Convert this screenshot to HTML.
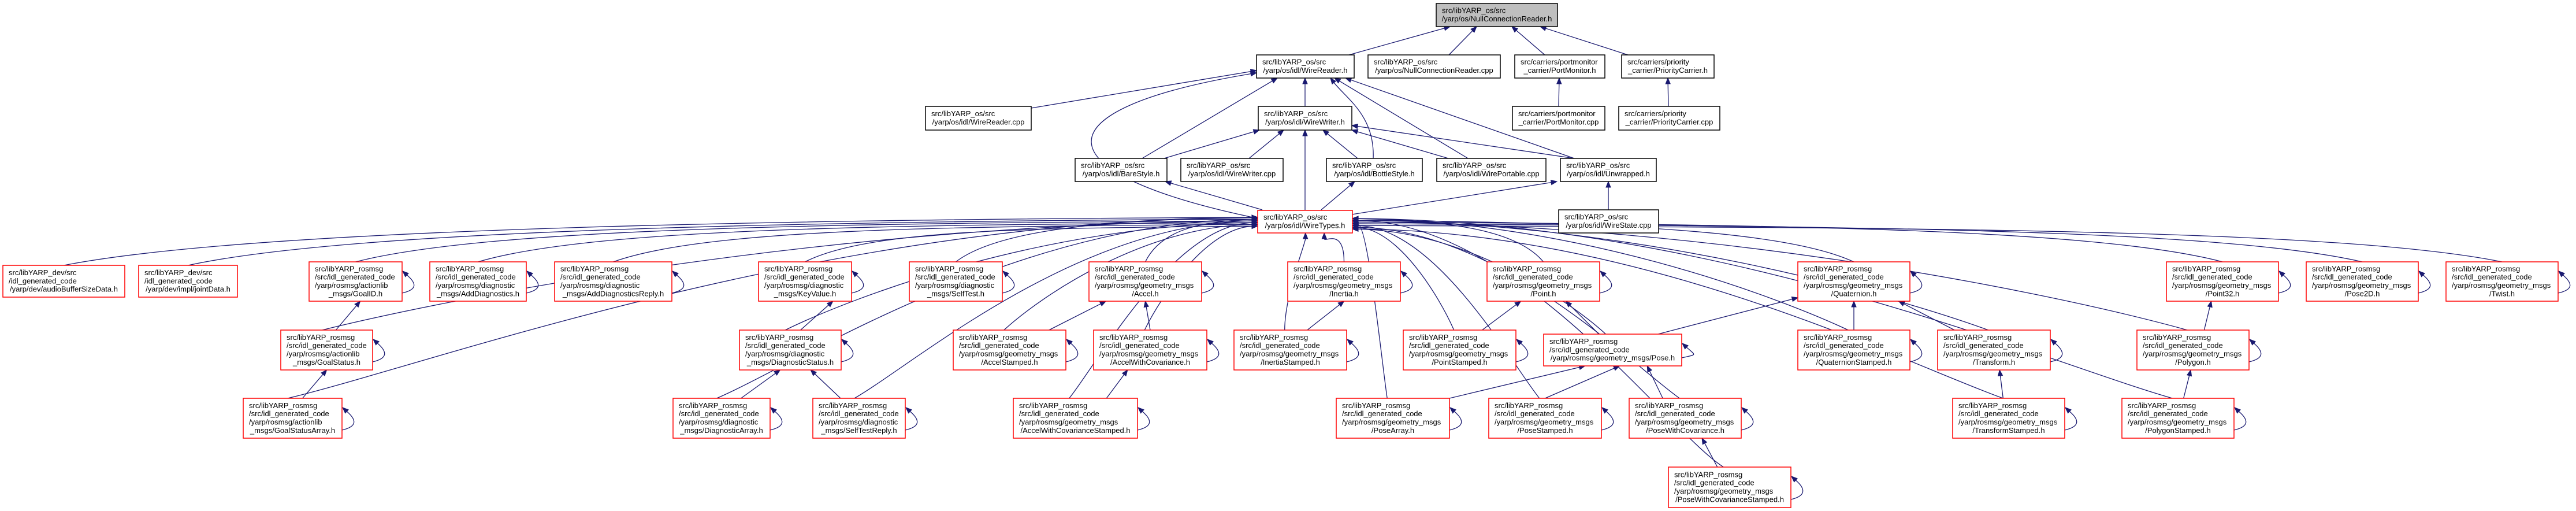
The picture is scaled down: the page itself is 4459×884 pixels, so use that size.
<!DOCTYPE html>
<html><head><meta charset="utf-8">
<style>
html,body{margin:0;padding:0;background:#fff;width:4459px;height:884px;overflow:hidden}
svg{display:block}
text{font-family:"Liberation Sans",sans-serif;font-size:13px;fill:#000}
</style></head>
<body>
<svg id="g" xmlns="http://www.w3.org/2000/svg" width="4459" height="884" viewBox="0 0 4459 884"></svg>
<script>
const S=document.getElementById('g');
const NS='http://www.w3.org/2000/svg';
const C='#191970';
const R='src/libYARP_rosmsg', I='/src/idl_generated_code', G='/yarp/rosmsg/geometry_msgs', D='/yarp/rosmsg/diagnostic', A='/yarp/rosmsg/actionlib';
const N={
root:[2486,6,2696,46,['src/libYARP_os/src','/yarp/os/NullConnectionReader.h'],'k',1],
wrh:[2175,95,2344,135,['src/libYARP_os/src','/yarp/os/idl/WireReader.h'],'k'],
ncc:[2368,95,2597,135,['src/libYARP_os/src','/yarp/os/NullConnectionReader.cpp'],'k'],
pmh:[2622,95,2778,135,['src/carriers/portmonitor','_carrier/PortMonitor.h'],'k'],
pch:[2807,95,2967,135,['src/carriers/priority','_carrier/PriorityCarrier.h'],'k'],
wrc:[1602,184,1785,225,['src/libYARP_os/src','/yarp/os/idl/WireReader.cpp'],'k'],
wwh:[2178,184,2340,225,['src/libYARP_os/src','/yarp/os/idl/WireWriter.h'],'k'],
pmc:[2618,184,2778,225,['src/carriers/portmonitor','_carrier/PortMonitor.cpp'],'k'],
pcc:[2802,184,2977,225,['src/carriers/priority','_carrier/PriorityCarrier.cpp'],'k'],
bs:[1861,274,2020,314,['src/libYARP_os/src','/yarp/os/idl/BareStyle.h'],'k'],
wwc:[2044,274,2221,314,['src/libYARP_os/src','/yarp/os/idl/WireWriter.cpp'],'k'],
bts:[2296,274,2462,314,['src/libYARP_os/src','/yarp/os/idl/BottleStyle.h'],'k'],
wpc:[2487,274,2676,314,['src/libYARP_os/src','/yarp/os/idl/WirePortable.cpp'],'k'],
unw:[2701,274,2867,314,['src/libYARP_os/src','/yarp/os/idl/Unwrapped.h'],'k'],
wt:[2177,364,2341,403,['src/libYARP_os/src','/yarp/os/idl/WireTypes.h'],'r'],
wsc:[2698,363,2871,403,['src/libYARP_os/src','/yarp/os/idl/WireState.cpp'],'k'],
abs:[5,459,216,514,['src/libYARP_dev/src','/idl_generated_code','/yarp/dev/audioBufferSizeData.h'],'r'],
jd:[240,459,411,514,['src/libYARP_dev/src','/idl_generated_code','/yarp/dev/impl/jointData.h'],'r'],
gid:[535,453,696,521,[R,I,A,'_msgs/GoalID.h'],'r',0,1],
add:[744,453,911,521,[R,I,D,'_msgs/AddDiagnostics.h'],'r',0,1],
adr:[960,453,1163,521,[R,I,D,'_msgs/AddDiagnosticsReply.h'],'r',0,1],
kv:[1313,453,1474,521,[R,I,D,'_msgs/KeyValue.h'],'r',0,1],
st:[1574,453,1735,521,[R,I,D,'_msgs/SelfTest.h'],'r',0,1],
acc:[1885,453,2080,521,[R,I,G,'/Accel.h'],'r',0,1],
ine:[2229,453,2424,521,[R,I,G,'/Inertia.h'],'r',0,1],
pt:[2574,453,2769,521,[R,I,G,'/Point.h'],'r',0,1],
q:[3112,453,3306,521,[R,I,G,'/Quaternion.h'],'r',0,1],
p32:[3750,453,3944,521,[R,I,G,'/Point32.h'],'r',0,1],
p2d:[3992,453,4186,521,[R,I,G,'/Pose2D.h'],'r',0,1],
tw:[4234,453,4428,521,[R,I,G,'/Twist.h'],'r',0,1],
gs:[486,571,645,640,[R,I,A,'_msgs/GoalStatus.h'],'r',0,1],
ds:[1280,571,1456,640,[R,I,D,'_msgs/DiagnosticStatus.h'],'r',0,1],
ast:[1650,571,1845,640,[R,I,G,'/AccelStamped.h'],'r',0,1],
awc:[1893,571,2089,640,[R,I,G,'/AccelWithCovariance.h'],'r',0,1],
ist:[2136,571,2331,640,[R,I,G,'/InertiaStamped.h'],'r',0,1],
pst:[2429,571,2624,640,[R,I,G,'/PointStamped.h'],'r',0,1],
pose:[2672,578,2911,633,[R,I,'/yarp/rosmsg/geometry_msgs/Pose.h'],'r',0,1],
qst:[3112,571,3306,640,[R,I,G,'/QuaternionStamped.h'],'r',0,1],
tf:[3354,571,3549,640,[R,I,G,'/Transform.h'],'r',0,1],
pg:[3699,571,3893,640,[R,I,G,'/Polygon.h'],'r',0,1],
gsa:[421,689,592,758,[R,I,A,'_msgs/GoalStatusArray.h'],'r',0,1],
da:[1165,689,1333,758,[R,I,D,'_msgs/DiagnosticArray.h'],'r',0,1],
str:[1407,689,1567,758,[R,I,D,'_msgs/SelfTestReply.h'],'r',0,1],
awcs:[1754,689,1969,758,[R,I,G,'/AccelWithCovarianceStamped.h'],'r',0,1],
pa:[2313,689,2509,758,[R,I,G,'/PoseArray.h'],'r',0,1],
ps:[2577,689,2772,758,[R,I,G,'/PoseStamped.h'],'r',0,1],
pwc:[2820,689,3014,758,[R,I,G,'/PoseWithCovariance.h'],'r',0,1],
tfs:[3380,689,3574,758,[R,I,G,'/TransformStamped.h'],'r',0,1],
pgs:[3673,689,3867,758,[R,I,G,'/PolygonStamped.h'],'r',0,1],
pwcs:[2888,808,3100,878,[R,I,G,'/PoseWithCovarianceStamped.h'],'r',0,1],
};
function el(t,a,p){const e=document.createElementNS(NS,t);for(const k in a)e.setAttribute(k,a[k]);(p||S).appendChild(e);return e;}
const edges=el('g',{}),nodesG=el('g',{});
function arrow(x1,y1,x2,y2){const dx=x2-x1,dy=y2-y1,l=Math.hypot(dx,dy)||1,ux=dx/l,uy=dy/l;const L=10,W=4;
 const bx=x2-ux*L,by=y2-uy*L;el('polygon',{points:`${x2},${y2} ${bx-uy*W},${by+ux*W} ${bx+uy*W},${by-ux*W}`,fill:C,stroke:C,'stroke-width':1},edges);return [bx,by];}
function line(x1,y1,x2,y2){const [bx,by]=arrow(x1,y1,x2,y2);el('path',{d:`M${x1},${y1}L${bx},${by}`,fill:'none',stroke:C,'stroke-width':1.3},edges);}
function curve(x1,y1,c1x,c1y,c2x,c2y,x2,y2){const [bx,by]=arrow(c2x,c2y,x2,y2);el('path',{d:`M${x1},${y1}C${c1x},${c1y} ${c2x},${c2y} ${bx},${by}`,fill:'none',stroke:C,'stroke-width':1.3},edges);}
// top edges
line(2335,95,2510,46);line(2508,95,2556,46);line(2674,95,2617,46);line(2818,95,2666,46);
line(1785,187,2175,122);line(2259,184,2259,135);line(1977,274,2211,135);
curve(2377,274,2380,200,2330,170,2303,135);line(2541,274,2310,135);line(2725,274,2329,135);
curve(2178,378,1800,300,1790,190,2175,126);
line(2698,184,2699,135);line(2888,184,2887,135);
line(2015,274,2180,225);line(2162,274,2222,225);line(2350,274,2290,225);line(2507,274,2340,225);line(2725,274,2340,217);
line(2259,363,2259,225);line(2185,363,2017,314);line(2287,363,2345,314);line(2340,371,2695,314);line(2784,363,2784,314);
// edges to WireTypes
const wtKids=['abs','jd','gid','add','adr','kv','st','acc','ine','pt','q','p32','p2d','tw','gs','ds','ast','awc','ist','pst','pose','qst','tf','pg','gsa','da','str','awcs','pa','ps','pwc','tfs','pgs','pwcs'];
let li=0,ri=0;
wtKids.forEach(k=>{const n=N[k];const cx=(n[0]+n[2])/2;let sx=cx,sy=n[1];
 if(n[1]>460){sx=n[0]+(n[2]-n[0])*0.45;}
 if(cx<2120){const ey=376+(li++%6)*3;
   curve(sx,sy,sx+(2177-sx)*0.15,sy-60,2177-(2177-sx)*0.45,ey+4,2177,ey);}
 else if(cx>2400){const ey=378+(ri++%7)*3;
   curve(sx,sy,sx-(sx-2341)*0.15,sy-60,2341+(sx-2341)*0.45,ey+4,2341,ey);}
 else {const ex=2220+(cx-2120)*0.35;curve(sx,sy,sx,sy-60,ex,420,ex,403);}
});
// intra edges
const pb=(k,f)=>{const n=N[k];return [n[0]+(n[2]-n[0])*f,n[3]];};
const ct=(k,f)=>{const n=N[k];return [n[0]+(n[2]-n[0])*f,n[1]];};
function E(c,cf,p,pf){const a=ct(c,cf),b=pb(p,pf);line(a[0],a[1],b[0],b[1]);}
E('gs',0.6,'gid',0.55);E('gsa',0.6,'gs',0.5);
E('ds',0.6,'kv',0.8);E('da',0.7,'ds',0.4);E('str',0.3,'ds',0.7);
E('ast',0.85,'acc',0.15);E('awc',0.5,'acc',0.5);E('awcs',0.75,'awc',0.3);
E('ist',0.65,'ine',0.5);E('pst',0.7,'pt',0.3);E('pose',0.4,'pt',0.7);
line(2870,578,3112,515);
E('pa',1,'pose',0.3);E('ps',0.5,'pose',0.55);E('pwc',0.3,'pose',0.75);E('pwcs',0.4,'pwc',0.65);
E('qst',0.5,'q',0.5);E('tf',0.15,'q',0.9);E('tfs',0.45,'tf',0.55);
E('pg',0.6,'p32',0.4);E('pgs',0.55,'pg',0.48);
// nodes
for(const k in N){const n=N[k];const [x1,y1,x2,y2,lines,col,gray,loop]=n;
 el('rect',{x:x1,y:y1,width:x2-x1,height:y2-y1,fill:gray?'#bfbfbf':'#fff',stroke:col=='r'?'#ff0000':'#000','stroke-width':1.5},nodesG);
 const h=y2-y1,nl=lines.length,sp=14.3;const top=y1+(h-nl*sp)/2+11;
 lines.forEach((t,i)=>{const last=i==nl-1;const tx=el('text',{x:last?(x1+x2)/2:x1+10,y:top+i*sp,'text-anchor':last?'middle':'start'},nodesG);tx.textContent=t;});
 if(loop){const a=y1+16,b=y2-14;
  const [bx,by]=arrow(x2+14,a+12,x2+1,a);
  el('path',{d:`M${x2},${b}C${x2+26},${b-6} ${x2+26},${a+22} ${bx},${by}`,fill:'none',stroke:C,'stroke-width':1.3},edges);}
}
// fix text widths if overflow
nodesG.querySelectorAll('text').forEach(t=>{});
</script>
</body></html>
